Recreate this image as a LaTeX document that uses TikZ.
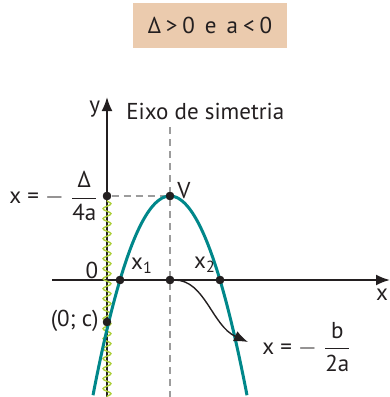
\documentclass[tikz,border=0pt]{standalone}
\usepackage{fontspec}
\setmainfont{PT Sans}
\usepackage{tikz}
\usetikzlibrary{arrows.meta, positioning, calc, decorations.pathmorphing}
\definecolor{BoxTan}{HTML}{EBCBAE}
\definecolor{CurveTeal}{HTML}{00878A}
\definecolor{WaveGreen}{HTML}{ADCF3A}
\definecolor{GuideGray}{HTML}{9C9C9C}
\definecolor{InkBlack}{HTML}{231F20}

\begin{document}
\begin{tikzpicture}[x=0.5pt, y=-0.5pt,
  dotpt/.style={circle, fill=InkBlack, inner sep=0pt, minimum size=4.2pt},
  lbl/.style={font=\fontsize{11.5}{13}\selectfont, text=InkBlack, inner sep=1pt},
  axis/.style={line width=1pt, draw=InkBlack, -{Latex[length=7pt, width=5.5pt]}},
  guide/.style={draw=GuideGray, line width=0.65pt, dash pattern=on 3.5pt off 2.5pt}
]
\useasboundingbox (0,0) rectangle (390,397);

% Title box
\node[lbl, fill=BoxTan, minimum width=77pt, minimum height=22.5pt] (title) at (210,25.5)
  {Δ\hspace{2.5pt}>\hspace{2.5pt}0\hspace{5pt}e\hspace{5pt}a\hspace{2.5pt}<\hspace{2.5pt}0};

% Guide points
\coordinate (ybot) at (107,397);
\coordinate (ytop) at (107,97);
\coordinate (xleft) at (52,280);
\coordinate (xright) at (390,280);
\coordinate (symtop) at (170,127);
\coordinate (symbot) at (170,397);
\coordinate (wavebot) at (107,397);

% Dots
\node[dotpt] (V) at (170,196) {};
\node[dotpt] (yv) at (107,196) {};
\node[dotpt] (x1) at (120,280) {};
\node[dotpt] (xc) at (170,280) {};
\node[dotpt] (x2) at (220,280) {};
\node[dotpt] (c) at (107,322) {};

% Axis of symmetry and vertex level
\draw[guide] (symtop) -- (symbot);
\draw[guide] (yv) -- (V);

% Axes
\draw[axis] (ybot) -- (ytop);
\draw[axis] (xleft) -- (xright);

% Wavy line on the y axis
\draw[WaveGreen, line width=0.7pt, decorate,
  decoration={snake, amplitude=2pt, segment length=5pt}] (yv) -- (wavebot);

% Parabola
\draw[CurveTeal, line width=1.5pt, domain=93:247, samples=80]
  plot (\x, {196+84*((\x-170)/50)^2});

% Redraw dots over the curve
\foreach \p in {V, yv, x1, xc, x2, c} {
  \node[dotpt] at (\p) {};
}

% Arrow to the vertex abscissa
\coordinate (arrowend) at (248,342);
\draw[line width=0.7pt, InkBlack, -{Latex[length=7pt, width=5.5pt]}]
  (xc) .. controls (205,280) and (212,326) .. (arrowend);

% Labels
\node[lbl, anchor=south west] (ylbl) at (87,120) {y};
\node[lbl, anchor=west] (eixo) at (124,111) {Eixo de simetria};
\node[lbl, anchor=south west] (vlbl) at (175,201) {V};
\node[lbl, anchor=east] (ylvl) at (101,196)
  {x = $-$ $\displaystyle\frac{\mbox{Δ}}{\mbox{4a}}$};
\node[lbl] (zero) at (92,270) {0};
\node[lbl] (x1lbl) at (142,266) {x\textsubscript{1}};
\node[lbl] (x2lbl) at (205,265) {x\textsubscript{2}};
\node[lbl] (xlbl) at (382,295) {x};
\node[lbl, anchor=east] (clbl) at (101,321) {(0; c)};
\node[lbl, anchor=west] (vxlbl) at (260,347)
  {x = $-$ $\displaystyle\frac{\mbox{b}}{\mbox{2a}}$};
\end{tikzpicture}
\end{document}
